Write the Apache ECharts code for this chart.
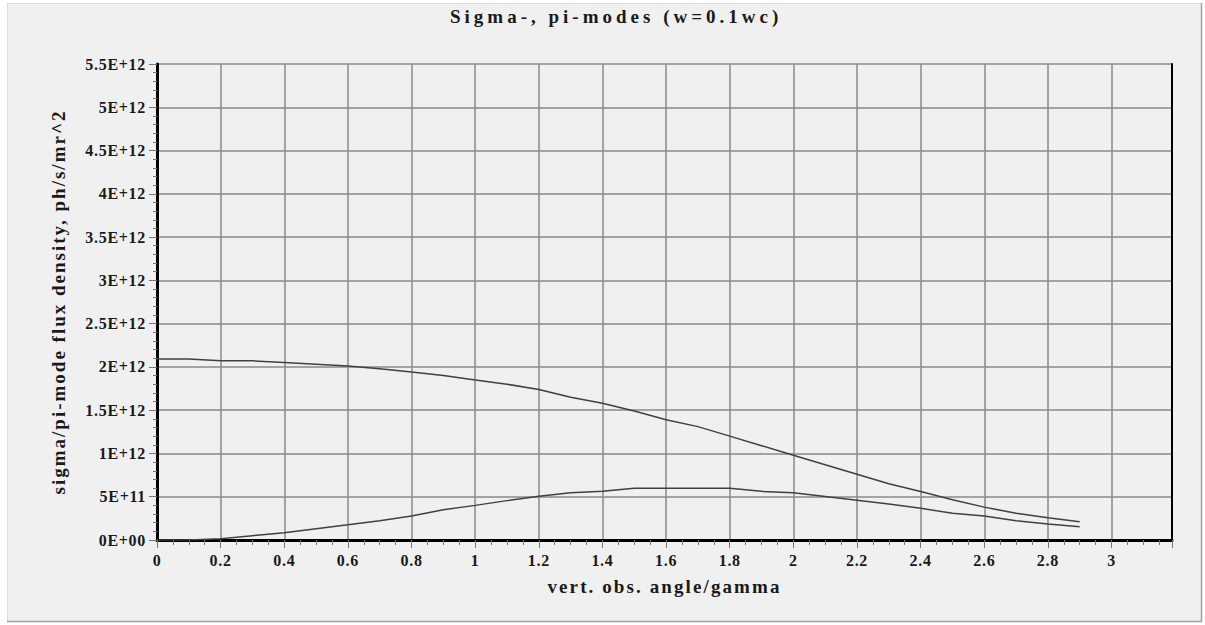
<!DOCTYPE html>
<html>
<head>
<meta charset="utf-8">
<script src="https://cdn.jsdelivr.net/npm/echarts@6/dist/echarts.min.js"></script>
<style>
  html, body { margin: 0; padding: 0; background: #ffffff; }
  #chart { width: 1205px; height: 625px; }
</style>
</head>
<body>
<div id="chart"></div>
<script>
// Vertical observation angle in units of 1/gamma
const angles = [0, 0.1, 0.2, 0.3, 0.4, 0.5, 0.6, 0.7, 0.8, 0.9,
                1.0, 1.1, 1.2, 1.3, 1.4, 1.5, 1.6, 1.7, 1.8, 1.9,
                2.0, 2.1, 2.2, 2.3, 2.4, 2.5, 2.6, 2.7, 2.8, 2.9];

// Sigma-mode flux density, units of 1E+12 ph/s/mr^2
const sigmaFlux = [2.09, 2.09, 2.07, 2.07, 2.05, 2.03, 2.01, 1.98, 1.94, 1.90,
                   1.85, 1.80, 1.74, 1.65, 1.58, 1.49, 1.39, 1.31, 1.20, 1.09,
                   0.98, 0.87, 0.76, 0.65, 0.56, 0.465, 0.38, 0.31, 0.258, 0.21];

// Pi-mode flux density, units of 1E+12 ph/s/mr^2
const piFlux = [0, 0, 0.015, 0.05, 0.085, 0.13, 0.175, 0.223, 0.277, 0.35,
                0.40, 0.455, 0.505, 0.546, 0.562, 0.597, 0.597, 0.597, 0.597, 0.562,
                0.546, 0.504, 0.46, 0.416, 0.366, 0.31, 0.277, 0.223, 0.186, 0.154];

const yTickLabels = ['0E+00', '5E+11', '1E+12', '1.5E+12', '2E+12', '2.5E+12',
                     '3E+12', '3.5E+12', '4E+12', '4.5E+12', '5E+12', '5.5E+12'];
const xTickLabels = ['0', '0.2', '0.4', '0.6', '0.8', '1', '1.2', '1.4', '1.6',
                     '1.8', '2', '2.2', '2.4', '2.6', '2.8', '3'];

const TITLE = 'Sigma-, pi-modes (w=0.1wc)';
const X_NAME = 'vert. obs. angle/gamma';
const Y_NAME = 'sigma/pi-mode flux density, ph/s/mr^2';

const SCALE = 1e12;
const Y_STEP = 5e11;
const X_STEP = 0.2;

const serif = "'Liberation Serif', 'DejaVu Serif', serif";
const gridColor = '#8a8a8a';
const ink = '#1a1a1a';

// Tracking (letter spacing, px) per text; everything else gets the tick-label value
const tracking = { [TITLE]: 4, [X_NAME]: 2.1, [Y_NAME]: 2 };
const TICK_TRACKING = 0.7;

const toPairs = (xs, ys) => xs.map((x, i) => [x, ys[i] * SCALE]);

const chart = echarts.init(document.getElementById('chart'), null, { renderer: 'svg' });

chart.setOption({
  backgroundColor: '#ffffff',
  animation: false,
  graphic: [
    { type: 'rect', z: -10, silent: true,
      shape: { x: 7, y: 3, width: 1195, height: 619 },
      style: { fill: '#f0f0f0', stroke: null } },
    { type: 'line', z: -9, silent: true,
      shape: { x1: 7, y1: 3.5, x2: 1202, y2: 3.5 }, style: { stroke: '#dcdcdc', lineWidth: 1 } },
    { type: 'line', z: -9, silent: true,
      shape: { x1: 7.5, y1: 3, x2: 7.5, y2: 622 }, style: { stroke: '#dcdcdc', lineWidth: 1 } },
    { type: 'line', z: -9, silent: true,
      shape: { x1: 7, y1: 621.5, x2: 1202, y2: 621.5 }, style: { stroke: '#a0a0a0', lineWidth: 1.5 } },
    { type: 'line', z: -9, silent: true,
      shape: { x1: 1201.5, y1: 3, x2: 1201.5, y2: 622 }, style: { stroke: '#a0a0a0', lineWidth: 1.5 } }
  ],
  title: {
    text: TITLE,
    left: 445,
    top: 2,
    textStyle: { fontFamily: serif, fontWeight: 'bold', fontSize: 19, color: ink }
  },
  grid: { left: 157, top: 64, right: 1205 - 1172, bottom: 625 - 540, containLabel: false },
  xAxis: {
    type: 'value',
    min: 0,
    max: 3.19,
    interval: X_STEP,
    name: X_NAME,
    nameLocation: 'middle',
    nameGap: 37,
    nameTextStyle: { fontFamily: serif, fontWeight: 'bold', fontSize: 19, color: ink },
    axisLine: { show: true, onZero: false, lineStyle: { color: '#000', width: 3 } },
    axisTick: { show: true, length: 8, lineStyle: { color: '#777', width: 1 } },
    minorTick: { show: true, splitNumber: 4, length: 5, lineStyle: { color: '#777', width: 1 } },
    axisLabel: {
      margin: 12,
      showMaxLabel: false,
      fontFamily: serif, fontWeight: 'bold', fontSize: 16, color: ink,
      formatter: (v) => {
        const i = Math.round(v / X_STEP);
        return Math.abs(v - i * X_STEP) < 1e-6 ? (xTickLabels[i] ?? '') : '';
      }
    },
    splitLine: { show: true, lineStyle: { color: gridColor, width: 1.5 } }
  },
  yAxis: [{
    type: 'value',
    min: 0,
    max: 5.5e12,
    interval: Y_STEP,
    name: Y_NAME,
    nameLocation: 'middle',
    nameGap: 89,
    nameTextStyle: { fontFamily: serif, fontWeight: 'bold', fontSize: 19, color: ink },
    axisLine: { show: true, lineStyle: { color: '#000', width: 3 } },
    axisTick: { show: true, length: 8, lineStyle: { color: '#777', width: 1 } },
    minorTick: { show: true, splitNumber: 5, length: 4, lineStyle: { color: '#777', width: 1 } },
    axisLabel: {
      margin: 11,
      fontFamily: serif, fontWeight: 'bold', fontSize: 16, color: ink,
      formatter: (v) => yTickLabels[Math.round(v / Y_STEP)] ?? ''
    },
    splitLine: { show: true, lineStyle: { color: gridColor, width: 1.5 } }
  }, {
    type: 'value',
    position: 'right',
    min: 0,
    max: 5.5e12,
    axisLine: { show: true, lineStyle: { color: '#000', width: 2 } },
    axisTick: { show: false },
    axisLabel: { show: false },
    splitLine: { show: false }
  }],
  series: [
    {
      name: 'sigma',
      type: 'line',
      data: toPairs(angles, sigmaFlux),
      showSymbol: false,
      lineStyle: { color: '#404040', width: 1.5 },
      z: 3
    },
    {
      name: 'pi',
      type: 'line',
      data: toPairs(angles, piFlux),
      showSymbol: false,
      lineStyle: { color: '#404040', width: 1.5 },
      z: 3
    }
  ]
});

// Spaced lettering for the chart's bold serif texts
function applyTracking() {
  document.querySelectorAll('#chart svg text').forEach((t) => {
    const s = t.textContent;
    const sp = tracking[s] !== undefined ? tracking[s] : TICK_TRACKING;
    t.setAttribute('letter-spacing', sp + 'px');
  });
}
applyTracking();
chart.on('finished', applyTracking);
setTimeout(applyTracking, 0);
</script>
</body>
</html>
